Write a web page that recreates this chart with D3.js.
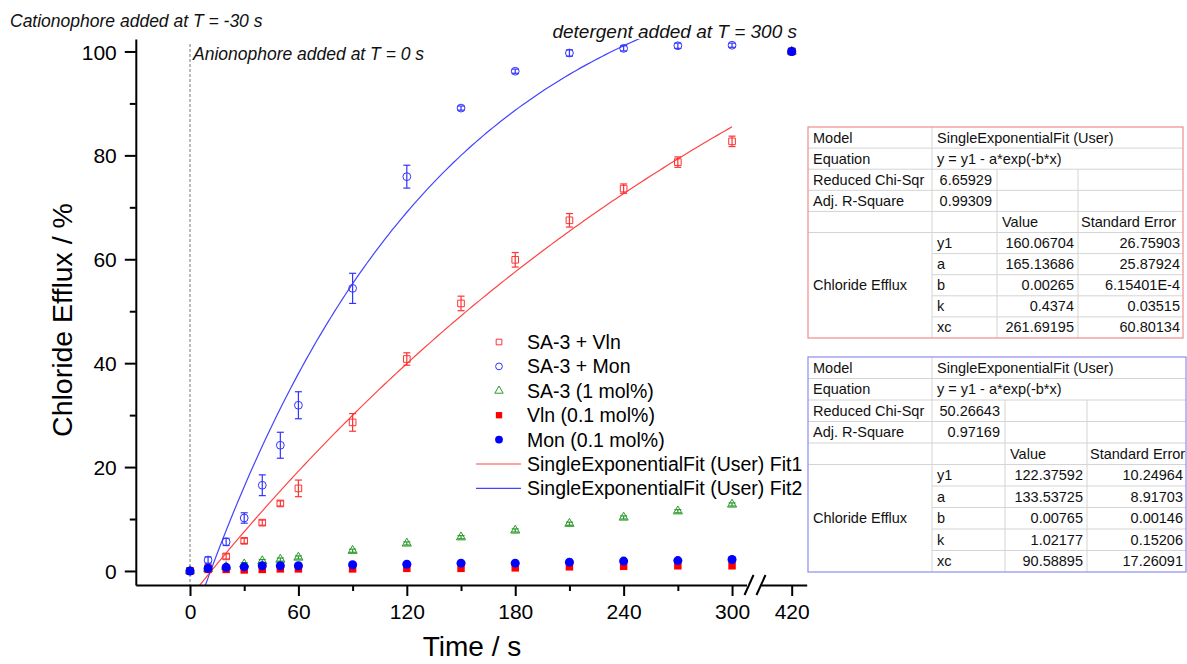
<!DOCTYPE html>
<html>
<head>
<meta charset="utf-8">
<script src="https://cdn.jsdelivr.net/npm/d3@7"></script>
<style>
  body { margin: 0; background: #fff; }
  svg { font-family: Arial, "Liberation Sans", sans-serif; }
</style>
</head>
<body>
<svg width="1187" height="664"></svg>
<script>
// time points (s)
const times = [0, 10, 20, 30, 40, 50, 60, 90, 120, 150, 180, 210, 240, 270, 300, 420];

// series values (%)
const sa3Vln = [0, 0.6, 2.8, 5.8, 9.3, 13.0, 15.9, 28.6, 40.8, 51.5, 59.9, 67.5, 73.6, 78.7, 82.7, 100];
const sa3VlnErr = [0, 0.3, 0.5, 0.5, 0.5, 0.5, 1.6, 1.7, 1.2, 1.4, 1.4, 1.3, 0.9, 1.0, 1.0, 0];
const sa3Mon = [0, 2.1, 5.6, 10.2, 16.5, 24.2, 31.9, 54.4, 75.9, 89.1, 96.2, 99.7, 100.6, 101.1, 101.2, 100];
const sa3MonErr = [0, 0.6, 0.7, 1.0, 2.0, 2.5, 2.6, 2.9, 2.2, 0.4, 0.4, 0.6, 0.5, 0.5, 0.4, 0];
const sa3Only = [0, 0.4, 0.8, 1.3, 1.9, 2.2, 2.6, 3.9, 5.3, 6.5, 7.8, 9.1, 10.3, 11.5, 12.8, 100];
const sa3OnlyErr = [0, 0.3, 0.3, 0.3, 0.3, 0.3, 0.3, 0.3, 0.3, 0.3, 0.3, 0.3, 0.3, 0.3, 0.3, 0];
const vlnOnly = [0, 0.3, 0.3, 0.2, 0.3, 0.4, 0.4, 0.4, 0.5, 0.5, 0.6, 0.8, 0.9, 1.0, 1.0, 100];
const monOnly = [0, 0.5, 0.7, 0.8, 1.0, 1.0, 1.0, 1.2, 1.3, 1.5, 1.5, 1.7, 1.9, 2.0, 2.2, 100];

// fit parameters y = y1 - a*exp(-b*x)
const fit1 = { y1: 160.06704, a: 165.13686, b: 0.00265 };
const fit2 = { y1: 122.37592, a: 133.53725, b: 0.00765 };

const xTicksMajor = [0, 60, 120, 180, 240, 300];
const xTicksMinor = [30, 90, 150, 210, 270];
const yTicksMajor = [0, 20, 40, 60, 80, 100];
const yTicksMinor = [10, 30, 50, 70, 90];

const legendLabels = ["SA-3 + Vln", "SA-3 + Mon", "SA-3 (1 mol%)", "Vln (0.1 mol%)", "Mon (0.1 mol%)",
  "SingleExponentialFit (User) Fit1", "SingleExponentialFit (User) Fit2"];

const table1Rows = [
  ["Model", "SingleExponentialFit (User)"],
  ["Equation", "y = y1 - a*exp(-b*x)"],
  ["Reduced Chi-Sqr", "6.65929", "", ""],
  ["Adj. R-Square", "0.99309", "", ""],
  ["", "", "Value", "Standard Error"],
  ["", "y1", "160.06704", "26.75903"],
  ["", "a", "165.13686", "25.87924"],
  ["", "b", "0.00265", "6.15401E-4"],
  ["", "k", "0.4374", "0.03515"],
  ["", "xc", "261.69195", "60.80134"]
];
const table2Rows = [
  ["Model", "SingleExponentialFit (User)"],
  ["Equation", "y = y1 - a*exp(-b*x)"],
  ["Reduced Chi-Sqr", "50.26643", "", ""],
  ["Adj. R-Square", "0.97169", "", ""],
  ["", "", "Value", "Standard Error"],
  ["", "y1", "122.37592", "10.24964"],
  ["", "a", "133.53725", "8.91703"],
  ["", "b", "0.00765", "0.00146"],
  ["", "k", "1.02177", "0.15206"],
  ["", "xc", "90.58895", "17.26091"]
];

const RED = "#ff3333", BLUE = "#3333ff", GREEN = "#2a9a2a";
const FITRED = "#ff4444", FITBLUE = "#4444ff";

const svg = d3.select("svg");

const x1 = d3.scaleLinear().domain([-30, 308]).range([135.8, 746.5]);
const x2 = d3.scaleLinear().domain([402.3, 428.3]).range([759.7, 806.7]);
const xs = (t) => (t > 350 ? x2(t) : x1(t));
const y = d3.scaleLinear().domain([-2.7, 102.4]).range([585, 39]);

svg.append("defs").append("clipPath").attr("id", "plotclip")
  .append("rect").attr("x", x1.range()[0]).attr("y", y.range()[1])
  .attr("width", x1.range()[1] - x1.range()[0]).attr("height", y.range()[0] - y.range()[1]);

// dashed line at T = 0
svg.append("line")
  .attr("x1", x1(0)).attr("x2", x1(0)).attr("y1", 44).attr("y2", y.range()[0])
  .attr("stroke", "#777").attr("stroke-width", 1).attr("stroke-dasharray", "3,2");

// fit curves
const line = d3.line().x((d) => x1(d[0])).y((d) => y(d[1]));
const fitPts = (p) => d3.range(0, 300.5, 2).map((t) => [t, p.y1 - p.a * Math.exp(-p.b * t)]);
const gFit = svg.append("g").attr("clip-path", "url(#plotclip)");
gFit.append("path").attr("d", line(fitPts(fit1))).attr("fill", "none").attr("stroke", FITRED).attr("stroke-width", 1.2);
gFit.append("path").attr("d", line(fitPts(fit2))).attr("fill", "none").attr("stroke", FITBLUE).attr("stroke-width", 1.2);

// markers
const sym = (type, size) => d3.symbol().type(type).size(size)();
function drawSeries(vals, errs, color, type, size, filled) {
  const g = svg.append("g");
  const pts = times.map((t, i) => ({ t, v: vals[i], e: errs ? errs[i] : 0 }));
  if (errs) {
    pts.filter((d) => d.e > 0).forEach((d) => {
      const cx = xs(d.t);
      g.append("line").attr("x1", cx).attr("x2", cx).attr("y1", y(d.v - d.e)).attr("y2", y(d.v + d.e))
        .attr("stroke", color).attr("stroke-width", 1.2);
      [d.v - d.e, d.v + d.e].forEach((v) => {
        g.append("line").attr("x1", cx - 3.5).attr("x2", cx + 3.5).attr("y1", y(v)).attr("y2", y(v))
          .attr("stroke", color).attr("stroke-width", 1.2);
      });
    });
  }
  g.selectAll("path.m").data(pts).enter().append("path")
    .attr("class", "m")
    .attr("d", sym(type, size))
    .attr("transform", (d) => `translate(${xs(d.t)},${y(d.v)})`)
    .attr("fill", filled ? color : "#fff")
    .attr("fill-opacity", filled ? 1 : 0)
    .attr("stroke", filled ? "none" : color)
    .attr("stroke-width", 1);
}
drawSeries(sa3Vln, sa3VlnErr, RED, d3.symbolSquare, 44, false);
drawSeries(sa3Mon, sa3MonErr, BLUE, d3.symbolCircle, 48, false);
drawSeries(sa3Only, sa3OnlyErr, GREEN, d3.symbolTriangle, 36, false);
drawSeries(vlnOnly, null, "#ff0000", d3.symbolSquare, 56, true);
drawSeries(monOnly, null, "#0000ff", d3.symbolCircle, 64, true);

// axes
const axisStyle = (g) => {
  g.selectAll("path.domain").attr("stroke", "#000").attr("stroke-width", 2);
  g.selectAll(".tick line").attr("stroke", "#000").attr("stroke-width", 2);
  g.selectAll(".tick text").attr("font-size", 21).attr("fill", "#000").attr("font-family", "Arial, 'Liberation Sans', sans-serif");
};
const yAxis = svg.append("g").attr("transform", `translate(${x1.range()[0]},0)`)
  .call(d3.axisLeft(y).tickValues(yTicksMajor).tickSize(11).tickSizeOuter(0).tickPadding(8));
axisStyle(yAxis);
svg.append("g").attr("transform", `translate(${x1.range()[0]},0)`)
  .call(d3.axisLeft(y).tickValues(yTicksMinor).tickSize(6).tickFormat(""))
  .call((g) => g.select("path.domain").remove())
  .call(axisStyle);
yAxis.selectAll(".tick text").attr("dy", "0.36em");

const xAxis1 = svg.append("g").attr("transform", `translate(0,${y.range()[0]})`)
  .call(d3.axisBottom(x1).tickValues(xTicksMajor).tickSize(11).tickSizeOuter(0).tickPadding(8));
axisStyle(xAxis1);
svg.append("g").attr("transform", `translate(0,${y.range()[0]})`)
  .call(d3.axisBottom(x1).tickValues(xTicksMinor).tickSize(6).tickFormat(""))
  .call((g) => g.select("path.domain").remove())
  .call(axisStyle);
const xAxis2 = svg.append("g").attr("transform", `translate(0,${y.range()[0]})`)
  .call(d3.axisBottom(x2).tickValues([420]).tickSize(11).tickSizeOuter(0).tickPadding(8));
axisStyle(xAxis2);

// axis break marks
const yb = y.range()[0];
[x1.range()[1] - 2, x1.range()[1] + 10].forEach((bx) => {
  svg.append("line").attr("x1", bx).attr("y1", yb + 10).attr("x2", bx + 9).attr("y2", yb - 10)
    .attr("stroke", "#000").attr("stroke-width", 2);
});

// axis titles
svg.append("text").attr("x", 472).attr("y", 656).attr("text-anchor", "middle")
  .attr("font-size", 28).text("Time / s");
svg.append("text").attr("transform", "translate(72,320) rotate(-90)").attr("text-anchor", "middle")
  .attr("font-size", 28.5).text("Chloride Efflux / %");

// annotations
const ann = [
  ["Cationophore added at T = -30 s", 10, 27, "start"],
  ["Anionophore added at T = 0 s", 193, 60, "start"],
  ["detergent added at T = 300 s", 797, 38, "end"]
];
svg.selectAll("text.ann").data(ann).enter().append("text").attr("class", "ann")
  .attr("x", (d) => d[1]).attr("y", (d) => d[2]).attr("text-anchor", (d) => d[3])
  .attr("font-size", (d, i) => (i === 2 ? 19 : 17.5)).attr("font-style", "italic").attr("fill", "#111").text((d) => d[0]);

// legend
const legend = svg.append("g");
const legItems = [
  { type: d3.symbolSquare, color: RED, size: 32, filled: false },
  { type: d3.symbolCircle, color: BLUE, size: 36, filled: false },
  { type: d3.symbolTriangle, color: GREEN, size: 30, filled: false },
  { type: d3.symbolSquare, color: "#ff0000", size: 40, filled: true },
  { type: d3.symbolCircle, color: "#0000ff", size: 48, filled: true },
  { line: FITRED },
  { line: FITBLUE }
];
legItems.forEach((it, i) => {
  const ly = 342 + i * 24.4;
  if (it.line) {
    legend.append("line").attr("x1", 476).attr("x2", 521).attr("y1", ly).attr("y2", ly)
      .attr("stroke", it.line).attr("stroke-width", 1.2);
  } else {
    legend.append("path").attr("d", sym(it.type, it.size)).attr("transform", `translate(499,${ly})`)
      .attr("fill", it.filled ? it.color : "none").attr("stroke", it.filled ? "none" : it.color).attr("stroke-width", 1);
  }
  legend.append("text").attr("x", 527).attr("y", ly + 7).attr("font-size", 19.5).text(legendLabels[i]);
});

// fit result tables
function drawTable(rows, x0, top, cols, rowH, border) {
  const g = svg.append("g");
  const grid = "#d4d4d4";
  const nR = rows.length;
  const bottom = top + nR * rowH;
  const cx = cols.map((c) => x0 + c);
  for (let r = 1; r < nR; r++) {
    const yy = top + r * rowH;
    const start = r > 5 ? cx[1] : cx[0];
    g.append("line").attr("x1", start).attr("x2", cx[4]).attr("y1", yy).attr("y2", yy).attr("stroke", grid);
  }
  g.append("line").attr("x1", cx[1]).attr("x2", cx[1]).attr("y1", top).attr("y2", bottom).attr("stroke", grid);
  [cx[2], cx[3]].forEach((vx) => {
    g.append("line").attr("x1", vx).attr("x2", vx).attr("y1", top + 2 * rowH).attr("y2", bottom).attr("stroke", grid);
  });
  g.append("rect").attr("x", cx[0]).attr("y", top).attr("width", cx[4] - cx[0]).attr("height", bottom - top)
    .attr("fill", "none").attr("stroke", border).attr("stroke-width", 1.2);
  rows.forEach((row, r) => {
    const ty = top + r * rowH + rowH / 2 + 5;
    const txt = (s, xx, anchor) => g.append("text").attr("x", xx).attr("y", ty).attr("font-size", 14.5)
      .attr("text-anchor", anchor).attr("fill", "#111").text(s);
    if (row[0]) txt(row[0], cx[0] + 5, "start");
    if (r < 2) { txt(row[1], cx[1] + 5, "start"); return; }
    if (r < 4) { txt(row[1], cx[2] - 5, "end"); return; }
    if (r === 4) { txt(row[2], cx[2] + 5, "start"); txt(row[3], cx[3] + 3, "start"); return; }
    txt(row[1], cx[1] + 5, "start");
    txt(row[2], cx[3] - 4, "end");
    txt(row[3], cx[4] - 3, "end");
  });
  g.append("text").attr("x", cx[0] + 5).attr("y", top + 7.5 * rowH + 5).attr("font-size", 14.5)
    .attr("fill", "#111").text("Chloride Efflux");
}
drawTable(table1Rows, 808, 127, [0, 124, 189, 270, 375], 21.1, "#f08c8c");
drawTable(table2Rows, 808, 357, [0, 124, 197, 279, 378], 21.5, "#8c8cf0");
</script>
</body>
</html>
